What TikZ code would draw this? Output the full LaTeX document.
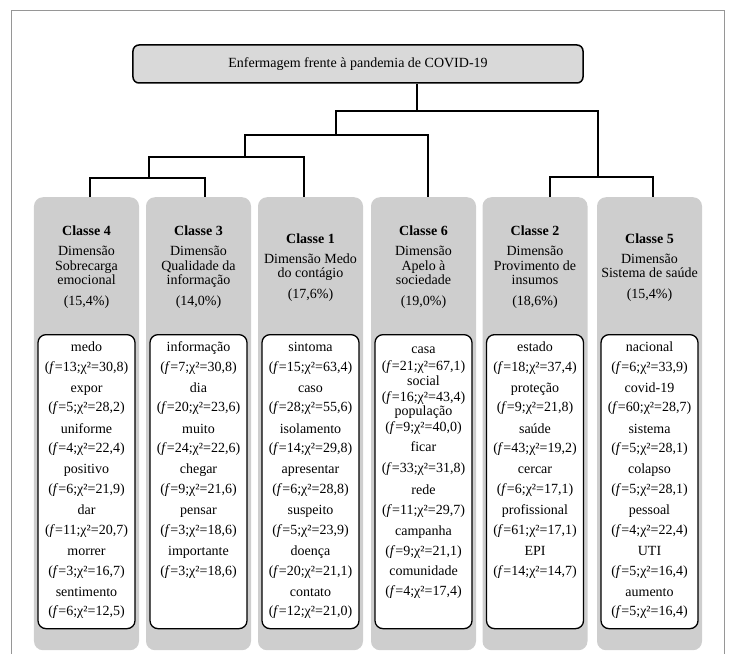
\documentclass[tikz,border=0pt]{standalone}
\usepackage{fontspec}
\setmainfont{Liberation Serif}
\definecolor{colfill}{RGB}{206,206,206}
\definecolor{titlefill}{RGB}{217,217,217}
\definecolor{framegray}{RGB}{150,150,150}
\newcommand{\fv}[2]{(\textit{f}=#1;χ²=#2)}
\newcommand{\wordcol}[3]{%
  \foreach \w/\a/\b [count=\i] in {#3} {%
    \node[word] (w#1-\i) at (#2,{351.5+40.8*(\i-1)}) {\w};
    \node[word] (f#1-\i) at (#2,{371+40.8*(\i-1)}) {\fv{\a}{\b}};
  }}
\begin{document}
\begin{tikzpicture}[x=1bp,y=-1bp,
  conn/.style={line width=1.8bp, black},
  titlebox/.style={rectangle, rounded corners=6bp, draw=black, line width=1.5bp, fill=titlefill,
    minimum width=450bp, minimum height=38bp, inner sep=0, font=\fontsize{14bp}{16bp}\selectfont},
  colbox/.style={rectangle, rounded corners=9bp, fill=colfill, minimum width=105bp,
    minimum height=453bp, inner sep=0, anchor=north},
  listbox/.style={rectangle, rounded corners=8bp, draw=black, line width=1.3bp, fill=white,
    minimum width=97bp, minimum height=294bp, inner sep=0, anchor=north},
  hdr/.style={align=center, font=\fontsize{14bp}{14.5bp}\selectfont, inner sep=0},
  word/.style={anchor=base, inner sep=0, font=\fontsize{14bp}{16bp}\selectfont},
]
\useasboundingbox (0,0) rectangle (732,654);
\draw[framegray, line width=1bp] (11,670) -- (11,11) -- (724,11) -- (724,670);

% title
\node[titlebox] (T) at (358,64) {Enfermagem frente à pandemia de COVID-19};

% columns
\node[colbox] (c4) at (86.5,197) {};
\node[colbox] (c3) at (198.5,197) {};
\node[colbox] (c1) at (310.5,197) {};
\node[colbox] (c6) at (423.5,197) {};
\node[colbox] (c2) at (535,197) {};
\node[colbox] (c5) at (649.5,197) {};

% inner list boxes
\node[listbox] (l4) at (86.5,334) {};
\node[listbox] (l3) at (198.5,334) {};
\node[listbox] (l1) at (310.5,334) {};
\node[listbox] (l6) at (423.5,334) {};
\node[listbox] (l2) at (535,334) {};
\node[listbox] (l5) at (649.5,334) {};

% headers
\node[hdr] (h4) at (86.5,267.5) {\textbf{Classe 4}\\[5.5bp]Dimensão\\Sobrecarga\\emocional\\[6.5bp](15,4\%)};
\node[hdr] (h3) at (198.5,267.5) {\textbf{Classe 3}\\[5.5bp]Dimensão\\Qualidade da\\informação\\[6.5bp](14,0\%)};
\node[hdr] (h1) at (310.5,267.5) {\textbf{Classe 1}\\[5.5bp]Dimensão Medo\\do contágio\\[6.5bp](17,6\%)};
\node[hdr] (h6) at (423.5,267.5) {\textbf{Classe 6}\\[5.5bp]Dimensão\\Apelo à\\sociedade\\[6.5bp](19,0\%)};
\node[hdr] (h2) at (535,267.5) {\textbf{Classe 2}\\[5.5bp]Dimensão\\Provimento de\\insumos\\[6.5bp](18,6\%)};
\node[hdr] (h5) at (649.5,267.5) {\textbf{Classe 5}\\[5.5bp]Dimensão\\Sistema de saúde\\[6.5bp](15,4\%)};

% word lists
\wordcol{4}{86.5}{medo/13/{30,8}, expor/5/{28,2}, uniforme/4/{22,4}, positivo/6/{21,9}, dar/11/{20,7}, morrer/3/{16,7}, sentimento/6/{12,5}}
\wordcol{3}{198.5}{informação/7/{30,8}, dia/20/{23,6}, muito/24/{22,6}, chegar/9/{21,6}, pensar/3/{18,6}, importante/3/{18,6}}
\wordcol{1}{310.5}{sintoma/15/{63,4}, caso/28/{55,6}, isolamento/14/{29,8}, apresentar/6/{28,8}, suspeito/5/{23,9}, doença/20/{21,1}, contato/12/{21,0}}
\foreach \w/\a/\b/\yw/\yf [count=\i] in {casa/21/{67,1}/349/366, social/16/{43,4}/381/397, população/9/{40,0}/411/427, ficar/33/{31,8}/447/468, rede/11/{29,7}/490/510, campanha/9/{21,1}/531/551, comunidade/4/{17,4}/571/591} {
  \node[word] (w6-\i) at (423.5,{\yw+4.5}) {\w};
  \node[word] (f6-\i) at (423.5,{\yf+4.5}) {\fv{\a}{\b}};
}
\wordcol{2}{535}{estado/18/{37,4}, proteção/9/{21,8}, saúde/43/{19,2}, cercar/6/{17,1}, profissional/61/{17,1}, EPI/14/{14,7}}
\wordcol{5}{649.5}{nacional/6/{33,9}, covid-19/60/{28,7}, sistema/5/{28,1}, colapso/5/{28,1}, pessoal/4/{22,4}, UTI/5/{16,4}, aumento/5/{16,4}}

% tree connectors
\coordinate (x4) at (90,0);
\coordinate (x3) at (205,0);
\coordinate (x1) at (304,0);
\coordinate (x6) at (428,0);
\coordinate (x2) at (550,0);
\coordinate (x5) at (653,0);
\coordinate (k43) at (149,178);
\coordinate (k431) at (245,157);
\coordinate (k4316) at (336,135);
\coordinate (k25) at (598,177);
\coordinate (root) at (417,111);

\draw[conn] (c4.north -| x4) |- (k43) -| (c3.north -| x3);
\draw[conn] (k43) |- (k431) -| (c1.north -| x1);
\draw[conn] (k431) |- (k4316) -| (c6.north -| x6);
\draw[conn] (c2.north -| x2) |- (k25) -| (c5.north -| x5);
\draw[conn] (k4316) |- (root) -| (k25);
\draw[conn] (T.south -| root) -- (root);
\end{tikzpicture}
\end{document}
